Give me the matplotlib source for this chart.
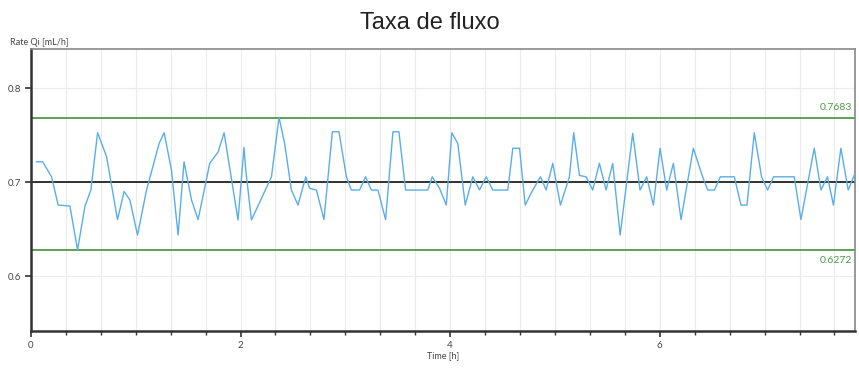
import matplotlib
matplotlib.use('Agg')
import matplotlib.pyplot as plt
from matplotlib.ticker import MultipleLocator

# data
time_h = [0.054, 0.112, 0.197, 0.260, 0.372, 0.445, 0.515, 0.572, 0.636, 0.722,
          0.826, 0.889, 0.944, 1.017, 1.103, 1.223, 1.271, 1.341, 1.404, 1.461,
          1.532, 1.595, 1.706, 1.786, 1.843, 1.976, 2.033, 2.050, 2.104, 2.295,
          2.367, 2.421, 2.485, 2.548, 2.622, 2.660, 2.724, 2.796, 2.876, 2.939,
          3.010, 3.057, 3.136, 3.193, 3.248, 3.311, 3.384, 3.454, 3.511, 3.575,
          3.787, 3.829, 3.899, 3.963, 4.016, 4.073, 4.144, 4.216, 4.280, 4.344,
          4.407, 4.550, 4.598, 4.662, 4.716, 4.788, 4.862, 4.916, 4.979, 5.052,
          5.138, 5.179, 5.234, 5.297, 5.360, 5.424, 5.488, 5.551, 5.622, 5.742,
          5.812, 5.875, 5.939, 6.003, 6.066, 6.130, 6.203, 6.320, 6.409, 6.457,
          6.521, 6.578, 6.711, 6.775, 6.832, 6.902, 6.971, 7.029, 7.086, 7.283,
          7.347, 7.474, 7.538, 7.600, 7.657, 7.728, 7.798, 7.862]
rate = [0.7216, 0.7216, 0.7056, 0.6755, 0.6745, 0.6277, 0.6740, 0.6915, 0.7525, 0.7270,
        0.6600, 0.6900, 0.6810, 0.6436, 0.6915, 0.7410, 0.7525, 0.7128, 0.6436, 0.7216,
        0.6810, 0.6600, 0.7199, 0.7320, 0.7525, 0.6596, 0.7370, 0.7128, 0.6596, 0.7056,
        0.7688, 0.7410, 0.6915, 0.6755, 0.7056, 0.6933, 0.6915, 0.6600, 0.7535, 0.7535,
        0.7056, 0.6915, 0.6915, 0.7056, 0.6915, 0.6915, 0.6600, 0.7535, 0.7535, 0.6915,
        0.6915, 0.7056, 0.6933, 0.6755, 0.7525, 0.7410, 0.6755, 0.7056, 0.6915, 0.7056,
        0.6915, 0.6915, 0.7360, 0.7360, 0.6755, 0.6915, 0.7056, 0.6915, 0.7199, 0.6755,
        0.7056, 0.7525, 0.7070, 0.7056, 0.6915, 0.7199, 0.6915, 0.7199, 0.6436, 0.7518,
        0.6915, 0.7056, 0.6755, 0.7360, 0.6915, 0.7199, 0.6600, 0.7360, 0.7056, 0.6915,
        0.6915, 0.7056, 0.7056, 0.6755, 0.6755, 0.7525, 0.7056, 0.6915, 0.7056, 0.7056,
        0.6600, 0.7360, 0.6915, 0.7056, 0.6755, 0.7360, 0.6915, 0.7090]

mean_rate = 0.7
upper_limit = 0.7683
lower_limit = 0.6272

plt.rcParams['font.family'] = ['Lato', 'DejaVu Sans']

fig = plt.figure(figsize=(8.59, 3.69), dpi=100)
ax = fig.add_axes([0.036, 0.103, 0.959, 0.764])

ax.plot(time_h, rate, color='#5aaee8', lw=1.0, zorder=3)
ax.axhline(mean_rate, color='#222222', lw=1.3, zorder=2)
ax.axhline(upper_limit, color='#4e9a45', lw=1.3, zorder=2)
ax.axhline(lower_limit, color='#4e9a45', lw=1.3, zorder=2)

ax.set_xlim(0, 7.86)
ax.set_ylim(0.5415, 0.8415)

ax.text(7.84, upper_limit + 0.006, f'{upper_limit:.4f}', color='#4e9a45', fontsize=7.5,
        ha='right', va='bottom')
ax.text(7.84, lower_limit - 0.006, f'{lower_limit:.4f}', color='#4e9a45', fontsize=7.5,
        ha='right', va='top')

ax.xaxis.set_major_locator(MultipleLocator(2))
ax.xaxis.set_minor_locator(MultipleLocator(1 / 3))
ax.set_yticks([0.6, 0.7, 0.8])
ax.set_yticklabels(['0.6', '0.7', '0.8'])
ax.grid(True, which='both', axis='x', color='#ebebeb', lw=0.8, zorder=0)
ax.grid(True, which='major', axis='y', color='#ebebeb', lw=0.8, zorder=0)

ax.tick_params(axis='both', which='major', direction='out', length=4, width=1.2,
               labelsize=7, colors='#333333', labelcolor='#444444', pad=3)
ax.tick_params(axis='x', which='minor', direction='out', length=3, width=1.0, color='#333333')

for side in ['left', 'bottom']:
    ax.spines[side].set_linewidth(1.8)
    ax.spines[side].set_color('#333333')
for side in ['top', 'right']:
    ax.spines[side].set_linewidth(1.2)
    ax.spines[side].set_color('#888888')

ax.set_xlabel('Time [h]', fontsize=6.5, color='#444444', labelpad=1)
fig.text(0.012, 0.872, 'Rate Qi [mL/h]', fontsize=6.5, color='#444444', ha='left', va='bottom')
fig.text(0.5, 0.938, 'Taxa de fluxo', fontsize=17, fontfamily='Liberation Sans',
         ha='center', va='center', color='#222222')

fig.savefig('out.png', dpi=100)
